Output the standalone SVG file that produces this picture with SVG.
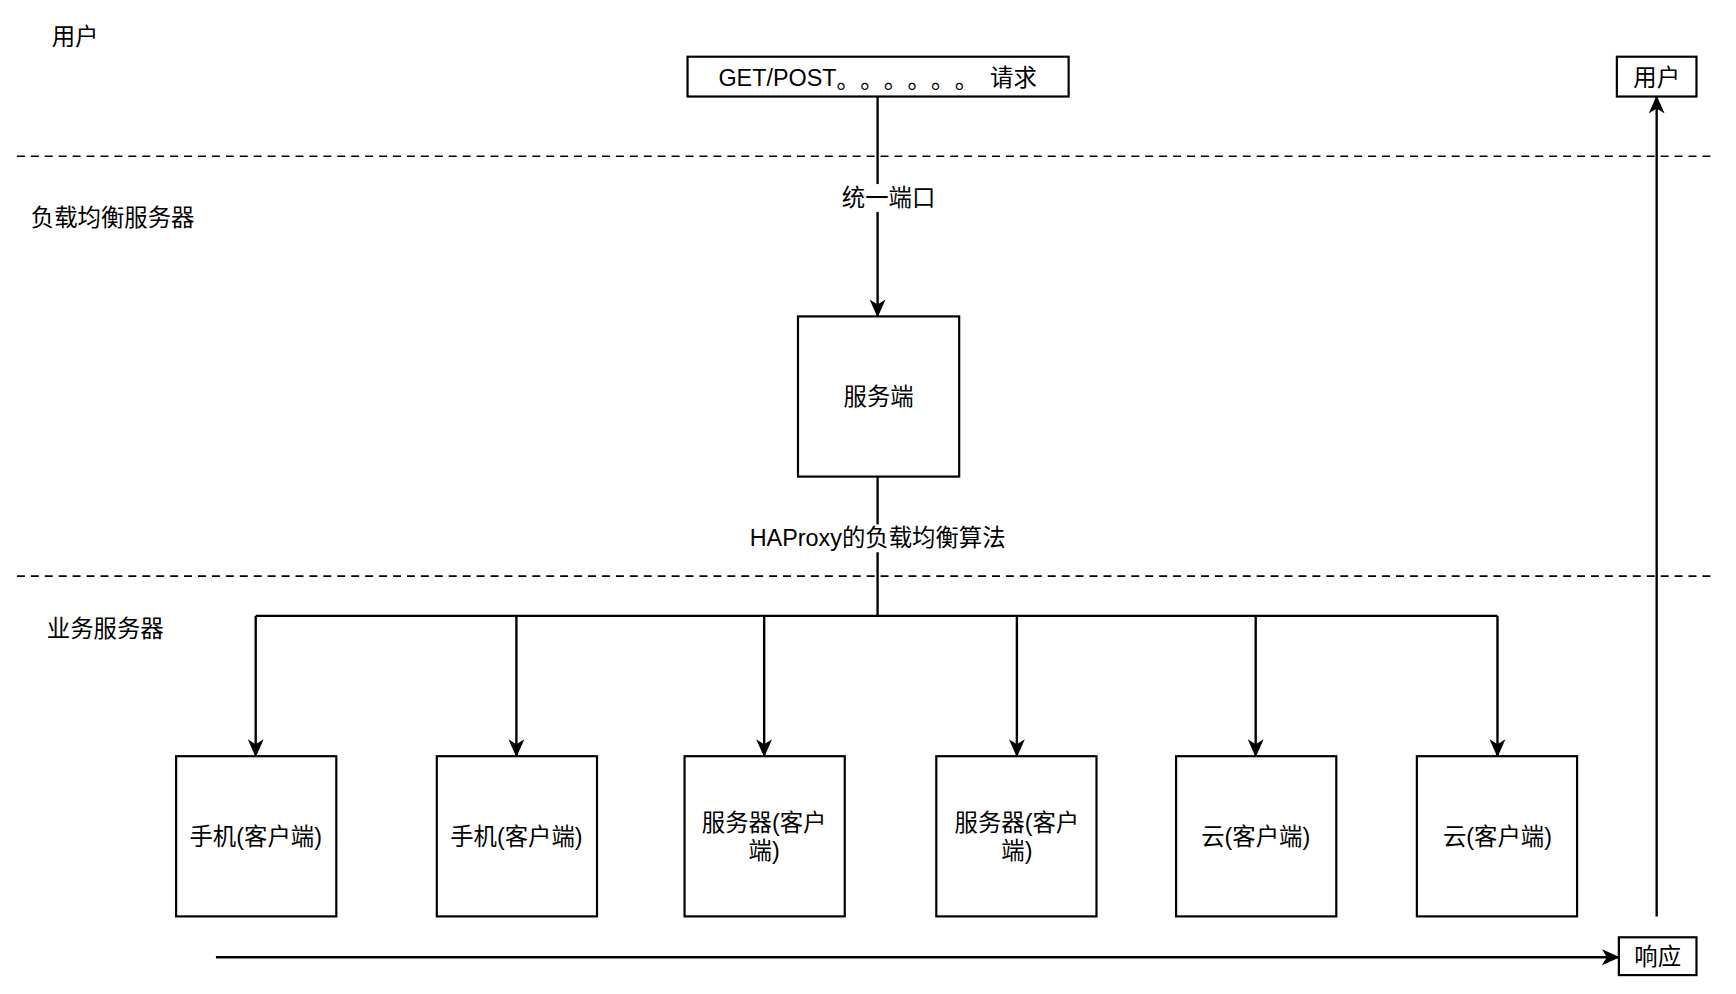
<svg xmlns="http://www.w3.org/2000/svg" width="1736" height="994" viewBox="0 0 1736 994">
<style>
text{font-family:"Liberation Sans","Noto Sans CJK SC",sans-serif;font-size:23.5px;fill:#000}
.c{text-anchor:middle;dominant-baseline:central}
.j{font-family:"Noto Sans CJK SC",sans-serif;letter-spacing:12px}
rect{fill:#fff;stroke:#000;stroke-width:2.2}
.e{fill:none;stroke:#000;stroke-width:2.4}
.d{stroke:#000;stroke-width:1.6;stroke-dasharray:8 6}
</style>
<defs><marker id="a" viewBox="0 0 20 20" refX="17" refY="10" markerWidth="20" markerHeight="20" orient="auto" markerUnits="userSpaceOnUse"><path d="M0,2 L18,10 L0,18 L5,10 Z" fill="#000"/></marker></defs>
<rect width="1736" height="994" style="stroke:none"/>
<g transform="scale(0.995)">
<line class="d" x1="17" y1="157" x2="1725" y2="157"/>
<line class="d" x1="17" y1="579" x2="1725" y2="579"/>
<text x="52" y="45">用户</text>
<text x="31" y="227">负载均衡服务器</text>
<text x="47" y="640">业务服务器</text>
<g id="connectors">
<path class="e" d="M882,97 V318" marker-end="url(#a)"/>
<path class="e" d="M882,479 V619"/>
<path class="e" d="M257,619 H1505"/>
<path class="e" d="M257,619 V760" marker-end="url(#a)"/>
<path class="e" d="M519,619 V760" marker-end="url(#a)"/>
<path class="e" d="M768,619 V760" marker-end="url(#a)"/>
<path class="e" d="M1022,619 V760" marker-end="url(#a)"/>
<path class="e" d="M1262,619 V760" marker-end="url(#a)"/>
<path class="e" d="M1505,619 V760" marker-end="url(#a)"/>
<path class="e" d="M1665,921 V97" marker-end="url(#a)"/>
<path class="e" d="M217,962 H1627" marker-end="url(#a)"/>
<rect x="840" y="185" width="104" height="28" style="stroke:none"/>
<text class="c" x="893" y="199">统一端口</text>
<rect x="746" y="527" width="272" height="28" style="stroke:none"/>
<text class="c" x="882" y="541">HAProxy的负载均衡算法</text>
</g>
<g id="get"><rect x="691" y="57" width="383" height="40"/><text class="c" x="882" y="78">GET/POST<tspan class="j">。。。。。。</tspan>请求</text></g>
<g id="server"><rect x="802" y="318" width="162" height="161"/><text class="c" x="883" y="399">服务端</text></g>
<g id="n1"><rect x="177" y="760" width="161" height="161"/><text class="c" x="257" y="841">手机(客户端)</text></g>
<g id="n2"><rect x="439" y="760" width="161" height="161"/><text class="c" x="519" y="841">手机(客户端)</text></g>
<g id="n3"><rect x="688" y="760" width="161" height="161"/><text class="c" x="768" y="827">服务器(客户</text><text class="c" x="768" y="855">端)</text></g>
<g id="n4"><rect x="941" y="760" width="161" height="161"/><text class="c" x="1022" y="827">服务器(客户</text><text class="c" x="1022" y="855">端)</text></g>
<g id="n5"><rect x="1182" y="760" width="161" height="161"/><text class="c" x="1262" y="841">云(客户端)</text></g>
<g id="n6"><rect x="1424" y="760" width="161" height="161"/><text class="c" x="1505" y="841">云(客户端)</text></g>
<g id="user"><rect x="1625" y="57" width="80" height="40"/><text class="c" x="1665" y="78">用户</text></g>
<g id="resp"><rect x="1627" y="942" width="78" height="38"/><text class="c" x="1666" y="962">响应</text></g>
</g>
</svg>
